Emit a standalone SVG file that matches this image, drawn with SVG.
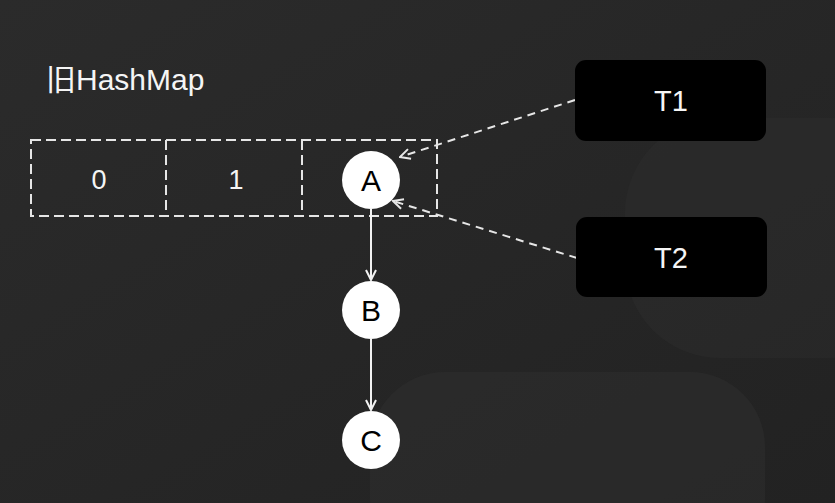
<svg xmlns="http://www.w3.org/2000/svg" width="835" height="503" viewBox="0 0 835 503">
  <defs>
    <linearGradient id="bg" x1="0" y1="0" x2="1" y2="1">
      <stop offset="0" stop-color="#2b2b2b"/>
      <stop offset="1" stop-color="#222222"/>
    </linearGradient>
    <marker id="chev" viewBox="0 0 12 12" refX="11" refY="6" markerWidth="12" markerHeight="12" markerUnits="userSpaceOnUse" orient="auto">
      <path d="M1,1 L11,6 L1,11" fill="none" stroke="#f2f2f2" stroke-width="2"/>
    </marker>
    <marker id="chevd" viewBox="0 0 12 12" refX="11" refY="6" markerWidth="12" markerHeight="12" markerUnits="userSpaceOnUse" orient="auto">
      <path d="M1,1 L11,6 L1,11" fill="none" stroke="#e6e6e6" stroke-width="2"/>
    </marker>
  </defs>
  <style>
    .lbl { font-family: "Liberation Sans", "Noto Sans CJK SC", sans-serif; fill: #f5f5f5; }
    .cell { fill: none; stroke: #e6e6e6; stroke-width: 2; stroke-dasharray: 10 5; }
    .node circle { fill: #ffffff; }
    .node text { font-family: "Liberation Sans", sans-serif; font-size: 30px; fill: #000000; text-anchor: middle; }
    .thread rect { fill: #000000; }
    .thread text { font-family: "Liberation Sans", sans-serif; font-size: 29px; fill: #f5f5f5; text-anchor: middle; }
    .solid { stroke: #f2f2f2; stroke-width: 2; fill: none; marker-end: url(#chev); }
    .dash { stroke: #e6e6e6; stroke-width: 2; fill: none; stroke-dasharray: 8 6; marker-end: url(#chevd); }
  </style>

  <!-- background -->
  <rect x="0" y="0" width="835" height="503" fill="url(#bg)"/>
  <rect x="625" y="118" width="300" height="240" rx="95" fill="#303030" opacity="0.35"/>
  <rect x="370" y="372" width="395" height="200" rx="75" fill="#303030" opacity="0.45"/>

  <text id="title" class="lbl" x="46" y="90" font-size="30">旧HashMap</text>

  <g id="array">
    <rect class="cell" x="31" y="140" width="406" height="76"/>
    <line class="cell" x1="166" y1="140" x2="166" y2="216"/>
    <line class="cell" x1="302" y1="140" x2="302" y2="216"/>
    <text class="lbl" x="99" y="189" font-size="27" text-anchor="middle">0</text>
    <text class="lbl" x="236" y="189" font-size="27" text-anchor="middle">1</text>
  </g>

  <g id="connectors">
    <line class="solid" x1="371" y1="209" x2="371" y2="280"/>
    <line class="solid" x1="371" y1="339" x2="371" y2="410"/>
    <line class="dash" x1="575" y1="100" x2="400" y2="157"/>
    <line class="dash" x1="577" y1="258" x2="393" y2="201"/>
  </g>

  <g id="nodeA" class="node">
    <circle cx="371" cy="180" r="29"/>
    <text x="371" y="191">A</text>
  </g>
  <g id="nodeB" class="node">
    <circle cx="371" cy="310" r="29"/>
    <text x="371" y="321">B</text>
  </g>
  <g id="nodeC" class="node">
    <circle cx="371" cy="440" r="29"/>
    <text x="371" y="451">C</text>
  </g>

  <g id="T1" class="thread">
    <rect x="575" y="60" width="191" height="81" rx="11"/>
    <text x="671" y="111">T1</text>
  </g>
  <g id="T2" class="thread">
    <rect x="576" y="217" width="191" height="80" rx="11"/>
    <text x="671" y="268">T2</text>
  </g>
</svg>
